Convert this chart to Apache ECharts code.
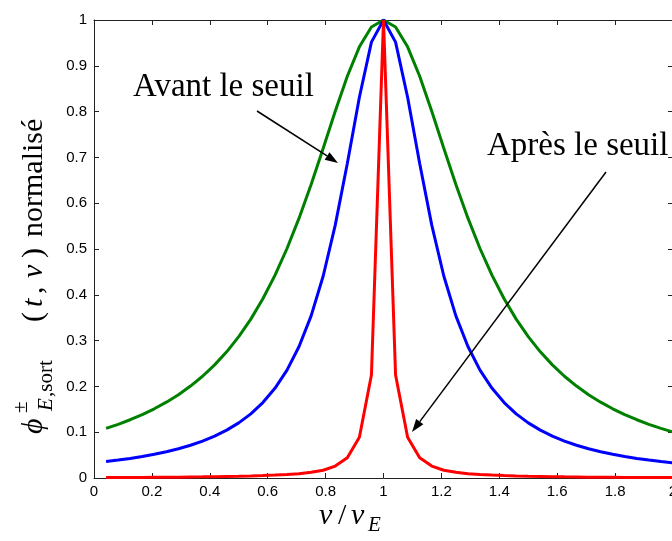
<!DOCTYPE html>
<html><head><meta charset="utf-8">
<script src="https://cdn.jsdelivr.net/npm/echarts@6/dist/echarts.min.js"></script>
<style>html,body{margin:0;padding:0;background:#fff}#c{width:672px;height:541px}</style>
</head><body><div id="c"></div>
<script>
const nu = [0.0417,0.0833,0.1250,0.1667,0.2083,0.2500,0.2917,0.3333,0.3750,0.4167,0.4583,0.5000,0.5417,0.5833,0.6250,0.6667,0.7083,0.7500,0.7917,0.8333,0.8750,0.9167,0.9583,1.0000,1.0417,1.0833,1.1250,1.1667,1.2083,1.2500,1.2917,1.3333,1.3750,1.4167,1.4583,1.5000,1.5417,1.5833,1.6250,1.6667,1.7083,1.7500,1.7917,1.8333,1.8750,1.9167,1.9583,2.0000];
const green = [0.1083,0.1172,0.1272,0.1385,0.1511,0.1656,0.1819,0.2007,0.2222,0.2470,0.2755,0.3086,0.3469,0.3913,0.4425,0.5011,0.5674,0.6410,0.7200,0.8007,0.8772,0.9414,0.9847,1.0000,0.9847,0.9414,0.8772,0.8007,0.7200,0.6410,0.5674,0.5011,0.4425,0.3913,0.3469,0.3086,0.2755,0.2470,0.2222,0.2007,0.1819,0.1656,0.1511,0.1385,0.1272,0.1172,0.1083,0.1004];
const blue = [0.0359,0.0391,0.0428,0.0470,0.0518,0.0574,0.0639,0.0715,0.0806,0.0914,0.1045,0.1204,0.1401,0.1647,0.1958,0.2355,0.2870,0.3539,0.4410,0.5521,0.6866,0.8314,0.9517,1.0000,0.9517,0.8314,0.6866,0.5521,0.4410,0.3539,0.2870,0.2355,0.1958,0.1647,0.1401,0.1204,0.1045,0.0914,0.0806,0.0715,0.0639,0.0574,0.0518,0.0470,0.0428,0.0391,0.0359,0.0331];
const red = [0.0010,0.0011,0.0012,0.0013,0.0015,0.0017,0.0019,0.0022,0.0025,0.0029,0.0034,0.0039,0.0046,0.0055,0.0065,0.0078,0.0095,0.0125,0.0170,0.0260,0.0440,0.0890,0.2250,1.0000,0.2250,0.0890,0.0440,0.0260,0.0170,0.0125,0.0095,0.0078,0.0065,0.0055,0.0046,0.0039,0.0034,0.0029,0.0025,0.0022,0.0019,0.0017,0.0015,0.0013,0.0012,0.0011,0.0010,0.0009];
const xTickLabels = ['0','0.2','0.4','0.6','0.8','1','1.2','1.4','1.6','1.8','2'];
const yTickLabels = ['0','0.1','0.2','0.3','0.4','0.5','0.6','0.7','0.8','0.9','1'];

const chart = echarts.init(document.getElementById('c'), null, {renderer:'canvas'});
const pair = ys => nu.map((x,i)=>[x,ys[i]]);
const axisCol = '#222';
const tickFont = {fontFamily:'"Liberation Sans", Arial, sans-serif', fontSize:15, color:'#000'};
const serif = '"Liberation Serif", "DejaVu Serif", serif';

function arrow(x1,y1,x2,y2){
  const dx=x2-x1, dy=y2-y1, L=Math.hypot(dx,dy), ux=dx/L, uy=dy/L;
  const hl=13, hw=4.5;
  const bx=x2-ux*hl, by=y2-uy*hl;
  return [
    {type:'line', shape:{x1:x1,y1:y1,x2:bx,y2:by}, style:{stroke:'#000', lineWidth:1.5}, z:100},
    {type:'polygon', shape:{points:[[x2,y2],[bx-uy*hw,by+ux*hw],[bx+uy*hw,by-ux*hw]]}, style:{fill:'#000'}, z:100}
  ];
}
function txt(x,y,text,font,rot){
  return {type:'text', x:x, y:y, rotation:rot||0, z:100,
    style:{text:text, font:font, fill:'#000', align:'left', textAlign:'left', verticalAlign:'middle', textVerticalAlign:'middle'}};
}
const R = Math.PI/2;
const F = '30px '+serif, FI = 'italic 30px '+serif, S = '21px '+serif, SI = 'italic 21px '+serif;
const graphics = [].concat(
  arrow(257,111,338,163),
  arrow(606,172,412,432),
  [
    txt(133,87,'Avant le seuil','33px '+serif),
    txt(487,146,'Après le seuil','33px '+serif),
    // x axis title
    txt(319,516,'ν',FI),
    txt(338,516,'/',F),
    txt(351,516,'ν',FI),
    txt(368,525,'E',SI),
    // y axis title (rotated, reading upward)
    txt(34,434,'ϕ',FI,R),
    txt(21,413,'±',S,R),
    txt(46,411,'E',SI,R),
    txt(46,397,',sort',S,R),
    txt(34,322,'(',F,R),
    txt(34,307,'t',FI,R),
    txt(34,294,',',F,R),
    txt(34,278,'ν',FI,R),
    txt(34,258,')',F,R),
    txt(34,237,'normalisé',F,R)
  ]
);

const option = {
  animation:false,
  backgroundColor:'#fff',
  grid:{left:94, top:20, width:579, height:458, containLabel:false, outerBoundsMode:'none'},
  xAxis:[
    {type:'value', min:0, max:2, interval:0.2, position:'bottom',
     axisLine:{show:true, onZero:false, lineStyle:{color:axisCol, width:1}},
     axisTick:{show:true, inside:true, length:5, lineStyle:{color:axisCol}},
     axisLabel:Object.assign({margin:6, hideOverlap:false, formatter:v=>xTickLabels[Math.round(v/0.2)]}, tickFont),
     splitLine:{show:false}},
    {type:'value', min:0, max:2, interval:0.2, position:'top',
     axisLine:{show:true, onZero:false, lineStyle:{color:axisCol, width:1}},
     axisTick:{show:true, inside:true, length:5, lineStyle:{color:axisCol}},
     axisLabel:{show:false}, splitLine:{show:false}}
  ],
  yAxis:[
    {type:'value', min:0, max:1, interval:0.1, position:'left',
     axisLine:{show:true, onZero:false, lineStyle:{color:axisCol, width:1}},
     axisTick:{show:true, inside:true, length:5, lineStyle:{color:axisCol}},
     axisLabel:Object.assign({margin:7, formatter:v=>yTickLabels[Math.round(v/0.1)]}, tickFont),
     splitLine:{show:false}},
    {type:'value', min:0, max:1, interval:0.1, position:'right',
     axisLine:{show:true, onZero:false, lineStyle:{color:axisCol, width:1}},
     axisTick:{show:true, inside:true, length:5, lineStyle:{color:axisCol}},
     axisLabel:{show:false}, splitLine:{show:false}}
  ],
  series:[
    {type:'line', name:'vert', data:pair(green), showSymbol:false, lineStyle:{color:'#008000', width:3}, itemStyle:{color:'#008000'}, z:2},
    {type:'line', name:'bleu', data:pair(blue), showSymbol:false, lineStyle:{color:'#0000ff', width:3}, itemStyle:{color:'#0000ff'}, z:3},
    {type:'line', name:'rouge', data:pair(red), showSymbol:false, lineStyle:{color:'#ff0000', width:3}, itemStyle:{color:'#ff0000'}, z:4}
  ],
  graphic:graphics
};
chart.setOption(option);
</script>
</body></html>
